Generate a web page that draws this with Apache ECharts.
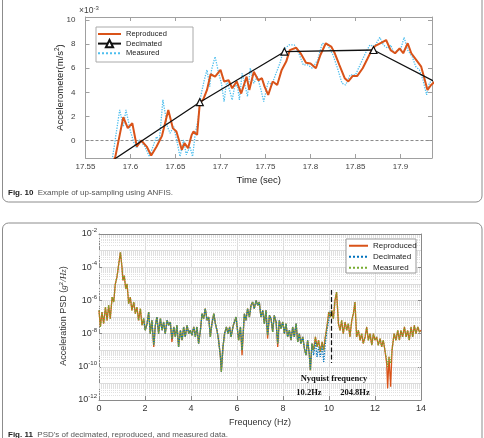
<!DOCTYPE html>
<html>
<head>
<meta charset="utf-8">
<script src="https://cdn.jsdelivr.net/npm/echarts@6/dist/echarts.min.js"></script>
<style>
html, body { margin: 0; padding: 0; background: #fff; overflow: hidden; }
#wrap { position: relative; width: 484px; height: 438px; }
#c1, #c2 { position: absolute; left: 0; top: 0; width: 484px; height: 438px; }
</style>
</head>
<body>
<div id="wrap"><div id="c1"></div><div id="c2"></div></div>
<script>
// ---- Fig. 10 data (time in s, acceleration in 1e-3 m/s^2) ----
var reproduced = [
  [17.578,-2.0],[17.583,-1.4],[17.592,1.94],[17.597,1.03],[17.602,1.44],[17.607,-0.5],[17.612,0],[17.618,-0.5],
  [17.623,-1.24],[17.629,-0.5],[17.635,0.39],[17.642,2.54],[17.647,1.03],[17.651,0.75],[17.657,-0.77],[17.66,-0.22],
  [17.664,-0.63],[17.668,0.47],[17.67,0.75],[17.674,0.47],[17.677,3.1],[17.681,3.43],[17.685,4.2],[17.689,5.5],
  [17.694,5.3],[17.7,5.86],[17.704,4.9],[17.709,5.0],[17.713,4.34],[17.718,4.9],[17.723,3.9],[17.729,5.3],
  [17.732,4.2],[17.737,5.7],[17.742,5.0],[17.746,5.17],[17.749,4.47],[17.753,3.79],[17.758,4.9],[17.763,4.6],
  [17.768,5.86],[17.773,6.55],[17.777,7.5],[17.784,7.7],[17.789,7.24],[17.795,6.46],[17.8,6.4],[17.806,6.0],
  [17.811,7.1],[17.817,8.07],[17.823,7.8],[17.827,7.24],[17.832,6.27],[17.838,5.17],[17.842,4.9],[17.847,5.36],
  [17.852,5.36],[17.858,6.0],[17.863,6.74],[17.868,7.5],[17.872,7.85],[17.879,8.12],[17.884,8.34],[17.889,7.5],
  [17.894,7.24],[17.899,7.65],[17.903,7.24],[17.908,8.07],[17.912,7.24],[17.917,6.74],[17.923,6.13],[17.927,5.03],
  [17.93,4.2],[17.934,4.61],[17.94,5.0]
];
var measured = [
  [17.578,-2.0],[17.58,-1.43],[17.588,2.54],[17.592,1.16],[17.595,2.54],[17.6,0.75],[17.604,-0.22],[17.607,-0.63],
  [17.61,0.06],[17.616,-0.5],[17.621,-1.33],[17.625,-0.5],[17.629,0.33],[17.632,-0.08],[17.636,3.37],[17.641,1.16],
  [17.644,0.61],[17.648,1.16],[17.652,-0.22],[17.655,-1.33],[17.659,0.06],[17.662,-1.18],[17.666,-0.5],[17.669,-1.33],
  [17.672,0.61],[17.675,1.71],[17.678,3.65],[17.682,5.03],[17.685,5.86],[17.688,4.47],[17.69,5.86],[17.694,6.96],
  [17.698,5.58],[17.701,4.75],[17.704,3.23],[17.707,5.03],[17.71,4.2],[17.713,3.37],[17.716,4.61],[17.719,4.47],
  [17.721,3.37],[17.724,5.58],[17.726,5.03],[17.73,3.65],[17.733,6.0],[17.737,4.75],[17.741,5.3],[17.745,4.2],
  [17.748,3.23],[17.753,4.89],[17.757,4.61],[17.761,5.44],[17.766,6.41],[17.77,7.51],[17.776,7.93],[17.782,7.93],
  [17.787,7.24],[17.792,6.27],[17.797,6.27],[17.802,6.0],[17.808,6.69],[17.813,8.07],[17.819,7.93],[17.825,7.1],
  [17.83,6.0],[17.835,4.75],[17.839,4.61],[17.844,5.44],[17.85,5.44],[17.855,6.27],[17.861,7.24],[17.866,7.93],
  [17.871,7.79],[17.877,8.56],[17.881,7.93],[17.886,7.65],[17.889,7.93],[17.893,7.24],[17.897,7.51],[17.9,7.51],
  [17.904,8.56],[17.908,7.51],[17.913,6.96],[17.917,6.13],[17.921,5.86],[17.925,5.03],[17.929,3.79],[17.932,4.75],
  [17.935,5.03]
];
var decimatedT = [17.581, 17.677, 17.771, 17.870, 17.966];
var decimatedV = [-1.6, 3.18, 7.37, 7.51, 3.8];
var accelTicks = [0, 2, 4, 6, 8, 10];
var timeMin = 17.55, timeMax = 17.935;

// ---- Fig. 11 data (frequency in Hz, PSD as log10 of g^2/Hz) ----
var psdFreq = [
  0,0.06,0.13,0.2,0.28,0.35,0.42,0.49,0.57,0.64,0.71,0.78,0.86,0.93,1.0,1.04,1.1,1.16,1.22,1.29,
  1.36,1.43,1.51,1.58,1.65,1.72,1.8,1.87,1.94,2.01,2.09,2.16,2.23,2.3,2.38,2.45,2.52,2.59,2.67,2.74,
  2.81,2.88,2.96,3.03,3.1,3.17,3.25,3.32,3.39,3.46,3.54,3.61,3.68,3.75,3.83,3.9,3.97,4.04,4.12,4.19,
  4.26,4.33,4.41,4.48,4.55,4.62,4.7,4.77,4.84,4.91,4.99,5.06,5.13,5.2,5.28,5.32,5.39,5.46,5.54,5.61,
  5.68,5.74,5.84,5.96,6.07,6.15,6.22,6.32,6.39,6.46,6.54,6.61,6.68,6.75,6.83,6.9,6.97,7.04,7.12,7.19,
  7.26,7.33,7.41,7.48,7.55,7.62,7.7,7.77,7.84,7.91,7.99,8.06,8.13,8.2,8.28,8.35,8.42,8.49,8.57,8.64,
  8.71,8.78,8.86,8.93,9.0,9.07,9.14,9.19,9.26,9.33,9.41,9.48,9.55,9.62,9.7,9.77,9.84,9.91,9.99,10.06,
  10.12,10.19,10.26,10.33,10.41,10.48,10.55,10.62,10.7,10.77,10.84,10.91,10.99,11.06,11.13,11.2,11.28,11.35,11.42,11.49,
  11.57,11.64,11.71,11.78,11.86,11.93,12.0,12.07,12.14,12.22,12.29,12.36,12.43,12.51,12.55,12.61,12.68,12.74,12.83,12.91,
  12.99,13.06,13.13,13.2,13.28,13.35,13.42,13.49,13.57,13.64,13.71,13.78,13.86,13.93,14.0
];
var psdMeasuredExp = [
  -6.6,-7.6,-6.7,-7.4,-6.4,-7.2,-6.3,-7.1,-5.8,-6.1,-5.0,-4.6,-3.8,-3.1,-4.0,-4.8,-4.5,-5.3,-5.0,-6.2,
  -5.8,-6.6,-6.1,-6.8,-6.4,-7.2,-6.5,-7.5,-7.1,-7.8,-7.4,-6.7,-8.0,-7.2,-8.7,-7.5,-7.0,-8.0,-7.1,-7.8,
  -7.3,-8.0,-7.2,-7.5,-7.3,-8.3,-7.6,-8.2,-7.5,-8.8,-7.8,-8.4,-7.6,-8.2,-7.5,-8.0,-7.8,-8.1,-7.6,-8.2,
  -7.6,-8.6,-7.8,-6.8,-7.1,-6.5,-7.2,-7.0,-8.2,-7.4,-6.8,-7.4,-7.8,-8.4,-9.4,-10.3,-8.8,-8.0,-7.6,-8.0,
  -7.6,-8.2,-7.5,-7.0,-8.4,-7.6,-9.0,-6.8,-7.2,-6.5,-7.0,-6.3,-6.1,-6.5,-6.0,-6.3,-6.1,-7.0,-6.6,-7.4,
  -6.6,-8.1,-6.9,-7.1,-7.9,-6.9,-7.3,-8.6,-7.2,-7.7,-7.3,-8.0,-7.4,-8.2,-7.8,-8.4,-7.6,-8.2,-7.4,-8.5,
  -8.0,-8.6,-8.2,-8.9,-9.3,-8.4,-9.2,-10.2,-8.6,-9.0,-8.2,-8.8,-8.4,-9.1,-8.5,-9.0,-8.2,-7.6,-6.7,-7.0,
  -6.6,-7.1,-6.0,-5.5,-7.4,-7.8,-7.2,-8.0,-7.3,-7.8,-7.4,-8.2,-7.2,-6.8,-6.1,-8.2,-7.8,-8.4,-8.0,-8.6,
  -8.2,-7.6,-8.4,-8.0,-8.7,-8.0,-8.4,-8.2,-8.7,-8.3,-8.8,-8.4,-9.0,-9.6,-10.0,-9.4,-9.8,-9.0,-8.0,-8.4,
  -7.8,-8.4,-7.8,-8.2,-7.6,-8.2,-7.8,-8.4,-7.6,-8.2,-7.5,-8.0,-7.6,-7.9,-7.8
];
var psdReproducedExp = [
  -6.6,-7.6,-6.7,-7.4,-6.4,-7.2,-6.3,-7.1,-5.8,-6.1,-5.0,-4.6,-3.8,-3.1,-4.0,-4.8,-4.5,-5.3,-5.0,-6.2,
  -5.8,-6.6,-6.1,-6.8,-6.4,-7.2,-6.5,-7.5,-7.1,-7.8,-7.4,-6.7,-8.0,-7.2,-8.8,-7.5,-7.0,-8.0,-7.1,-7.8,
  -7.3,-8.0,-7.2,-7.5,-7.3,-8.5,-7.6,-8.2,-7.5,-8.8,-7.8,-8.4,-7.6,-8.2,-7.5,-8.0,-7.8,-8.1,-7.6,-8.2,
  -7.6,-8.6,-7.8,-6.8,-7.1,-6.5,-7.2,-7.0,-8.2,-7.4,-6.8,-7.4,-7.8,-8.4,-9.4,-10.3,-8.8,-8.0,-7.6,-8.0,
  -7.6,-8.2,-7.5,-7.0,-8.4,-7.6,-9.3,-6.8,-7.2,-6.5,-7.0,-6.3,-6.1,-6.5,-6.0,-6.3,-6.1,-7.0,-6.6,-7.4,
  -6.6,-8.3,-6.9,-7.1,-7.9,-6.9,-7.3,-8.8,-7.2,-7.7,-7.3,-8.0,-7.4,-8.2,-7.8,-8.4,-7.6,-8.2,-7.4,-8.5,
  -8.0,-8.6,-8.2,-8.9,-9.3,-8.4,-9.2,-10.2,-8.6,-9.0,-8.2,-8.8,-8.4,-9.1,-8.5,-9.0,-8.2,-7.6,-6.7,-7.0,
  -6.6,-7.1,-6.0,-5.5,-7.4,-7.8,-7.2,-8.0,-7.3,-7.8,-7.4,-8.2,-7.2,-6.8,-6.1,-8.2,-7.8,-8.4,-8.0,-8.6,
  -8.2,-7.6,-8.4,-8.0,-8.7,-8.0,-8.4,-8.2,-8.7,-8.3,-8.8,-8.4,-9.0,-9.8,-11.3,-9.4,-11.2,-9.0,-8.0,-8.4,
  -7.8,-8.4,-7.8,-8.2,-7.6,-8.2,-7.8,-8.4,-7.6,-8.2,-7.5,-8.0,-7.6,-7.9,-7.8
];
var psdDecimatedExp = [
  null,null,null,null,null,null,null,null,null,null,null,null,null,null,null,null,null,null,null,null,
  null,null,null,null,null,null,null,null,-7.1,-7.8,-7.4,-6.7,-8.0,-7.2,-8.7,-7.5,-7.0,-8.0,-7.1,-7.8,
  -7.3,-8.0,-7.2,-7.5,-7.3,-8.3,-7.6,-8.2,-7.5,-8.8,-7.8,-8.4,-7.6,-8.2,-7.5,-8.0,-7.8,-8.1,-7.6,-8.2,
  -7.6,-8.6,-7.8,-6.8,-7.1,-6.5,-7.2,-7.0,-8.2,-7.4,-6.8,-7.4,-7.8,-8.4,-9.4,-10.3,-8.8,-8.0,-7.6,-8.0,
  -7.6,-8.2,-7.5,-7.0,-8.4,-7.6,-9.0,-6.8,-7.2,-6.5,-7.0,-6.3,-6.1,-6.5,-6.0,-6.3,-6.1,-7.0,-6.6,-7.4,
  -6.6,-8.1,-6.9,-7.1,-7.9,-6.9,-7.3,-8.6,-7.2,-7.7,-7.3,-8.0,-7.4,-8.2,-7.8,-8.4,-7.6,-8.2,-7.4,-8.5,
  -8.0,-8.6,-8.2,-8.9,-9.3,-8.4,-9.2,-10.2,-8.6,-9.3,-8.5,-9.4,-8.8,-9.4,-8.7,-9.7,-8.6,-7.8,-7.2,-6.6
];
var psdTicks = [1e-12, 1e-10, 1e-8, 1e-6, 1e-4, 1e-2];
var psdDecades = [1e-12, 1e-11, 1e-10, 1e-9, 1e-8, 1e-7, 1e-6, 1e-5, 1e-4, 1e-3, 1e-2];
var nyquistFreq = 10.1;
var freqMin = 0, freqMax = 14;

var FONT = '"Liberation Sans", Arial, sans-serif';
var SERIF = '"Liberation Serif", "Times New Roman", serif';
var NOSYM = { color: 'rgba(0,0,0,0)', borderColor: 'rgba(0,0,0,0)', borderWidth: 0 };

function psdSeries(exps) {
  var out = [];
  psdFreq.forEach(function (f, i) {
    if (exps[i] !== null && exps[i] !== undefined) out.push([f, Math.pow(10, exps[i])]);
  });
  return out;
}

// ---------------- top chart ----------------
var boxTop = '#a0a0a0';
var decimatedData = decimatedT.map(function (t, i) {
  var item = { value: [t, decimatedV[i]] };
  if (i === 0 || i === decimatedT.length - 1) item.symbol = 'none';
  return item;
});

var chartTop = echarts.init(document.getElementById('c1'));
chartTop.setOption({
  animation: false,
  backgroundColor: '#fff',
  textStyle: { fontFamily: FONT },
  graphic: [
    { type: 'rect', shape: { x: 2.5, y: -10, width: 479.5, height: 212, r: 6 },
      style: { fill: 'none', stroke: '#8c8c8c', lineWidth: 1 } },
    { type: 'rect', shape: { x: 2.5, y: 223, width: 479.5, height: 240, r: 6 },
      style: { fill: 'none', stroke: '#8c8c8c', lineWidth: 1 } },
    { type: 'rect', z: 3, shape: { x: 96, y: 27, width: 97, height: 35 },
      style: { fill: '#fff', stroke: '#aaa', lineWidth: 1 } },
    { type: 'text', x: 8, y: 193,
      style: { text: '{b|Fig. 10}  Example of up-sampling using ANFIS.', fill: '#555', font: '8px ' + FONT,
        verticalAlign: 'middle', rich: { b: { fontWeight: 'bold', fill: '#222', fontSize: 8 } } } },
    { type: 'text', x: 8, y: 435,
      style: { text: "{b|Fig. 11}  PSD's of decimated, reproduced, and measured data.", fill: '#555', font: '8px ' + FONT,
        verticalAlign: 'middle', rich: { b: { fontWeight: 'bold', fill: '#222', fontSize: 8 } } } },
    { type: 'text', x: 79, y: 11,
      style: { text: '\u00d710{s|-3}', fill: '#404040', font: '8.5px ' + FONT, verticalAlign: 'middle',
        rich: { s: { fontSize: 6, padding: [0, 0, 6, 0] } } } },
    { type: 'text', x: 60, y: 87.5, rotation: Math.PI / 2,
      style: { text: 'Accelerometer(m/s{s|2})', fill: '#222', font: '9.5px ' + FONT,
        align: 'center', verticalAlign: 'middle',
        rich: { s: { fontSize: 6.5, padding: [0, 0, 6, 0] } } } }
  ],
  legend: {
    orient: 'vertical', left: 97, top: 29.5,
    padding: 0, itemWidth: 23, itemHeight: 9, itemGap: 0.5,
    textStyle: { fontSize: 7.5, color: '#222', lineHeight: 9 },
    data: [{ name: 'Reproduced', itemStyle: NOSYM }, 'Decimated', { name: 'Measured', itemStyle: NOSYM }]
  },
  grid: { left: 85.5, top: 17, width: 346.5, height: 141 },
  xAxis: [
    { type: 'value', min: timeMin, max: timeMax, interval: 0.05, position: 'bottom',
      axisLine: { show: true, onZero: false, lineStyle: { color: boxTop } },
      axisTick: { show: true, inside: true, length: 4, lineStyle: { color: boxTop } },
      axisLabel: { color: '#404040', fontSize: 8, margin: 5, showMaxLabel: false },
      splitLine: { show: false },
      name: 'Time (sec)', nameLocation: 'middle', nameGap: 17,
      nameTextStyle: { fontSize: 9.5, color: '#222' } },
    { type: 'value', min: timeMin, max: timeMax, interval: 0.05, position: 'top',
      axisLine: { show: true, onZero: false, lineStyle: { color: boxTop } },
      axisTick: { show: true, inside: true, length: 4, lineStyle: { color: boxTop } },
      axisLabel: { show: false }, splitLine: { show: false } }
  ],
  yAxis: [
    { type: 'value', min: -1.45, max: 10.25, position: 'left',
      axisLine: { show: true, onZero: false, lineStyle: { color: boxTop } },
      axisTick: { show: true, inside: true, length: 4, customValues: accelTicks, lineStyle: { color: boxTop } },
      axisLabel: { customValues: accelTicks, color: '#404040', fontSize: 8, margin: 10 },
      splitLine: { show: false } },
    { type: 'value', min: -1.45, max: 10.25, position: 'right',
      axisLine: { show: true, onZero: false, lineStyle: { color: boxTop } },
      axisTick: { show: true, inside: true, length: 4, customValues: accelTicks, lineStyle: { color: boxTop } },
      axisLabel: { show: false }, splitLine: { show: false } }
  ],
  series: [
    { name: 'zero', type: 'line', data: [[timeMin, 0], [timeMax, 0]], z: 1, silent: true,
      showSymbol: false, symbol: 'none',
      lineStyle: { color: '#8a8a8a', type: [3, 2], width: 1 } },
    { name: 'Measured', type: 'line', data: measured, z: 2,
      showSymbol: false, symbol: 'none',
      lineStyle: { color: '#4DBEEE', width: 1.3, type: 'dotted' }, itemStyle: { color: '#4DBEEE' } },
    { name: 'Reproduced', type: 'line', data: reproduced, z: 3,
      showSymbol: false, symbol: 'none',
      lineStyle: { color: '#D95319', width: 2 }, itemStyle: { color: '#D95319' } },
    { name: 'Decimated', type: 'line', data: decimatedData, z: 4,
      symbol: 'triangle', symbolSize: 7, showSymbol: true,
      lineStyle: { color: '#111', width: 1.3 },
      itemStyle: { color: '#fff', borderColor: '#111', borderWidth: 1.2 } }
  ]
});

// ---------------- bottom chart ----------------
var boxBot = '#8a8a8a';
var gridLines = [];
for (var d = -12; d <= -3; d++) {
  for (var m = 1; m <= 9; m++) {
    if (m === 1 && d % 2 === 0) continue;
    var v = m * Math.pow(10, d);
    var ls = m === 1 ? { color: '#dcdcdc', type: 'solid', width: 1 } : { color: '#e0e0e0', type: 'dotted', width: 1 };
    gridLines.push([{ coord: [freqMin, v], lineStyle: ls }, { coord: [freqMax, v], lineStyle: ls }]);
  }
}
function expLabel(v) {
  var e = Math.round(Math.log10(v));
  return '10{e|' + e + '}';
}

var chartBot = echarts.init(document.getElementById('c2'));
chartBot.setOption({
  animation: false,
  backgroundColor: 'transparent',
  textStyle: { fontFamily: FONT },
  graphic: [
    { type: 'rect', z: 3, shape: { x: 346, y: 239, width: 70, height: 34 },
      style: { fill: '#fff', stroke: '#999', lineWidth: 1 } },
    { type: 'text', x: 64, y: 316, rotation: Math.PI / 2,
      style: { text: 'Acceleration PSD ({i|g}{s|2}{i|/Hz})', fill: '#333', font: '9px ' + FONT,
        align: 'center', verticalAlign: 'middle',
        rich: { i: { fontStyle: 'italic', fontFamily: SERIF, fontSize: 9 },
                s: { fontSize: 6, padding: [0, 0, 6, 0] } } } },
    { type: 'text', z: 6, x: 334, y: 379, style: { text: 'Nyquist frequency', align: 'center', verticalAlign: 'middle',
      fill: '#111', font: 'bold 8.5px ' + SERIF } },
    { type: 'text', z: 6, x: 309, y: 393, style: { text: '10.2Hz', align: 'center', verticalAlign: 'middle',
      fill: '#111', font: 'bold 8.5px ' + SERIF } },
    { type: 'text', z: 6, x: 355, y: 393, style: { text: '204.8Hz', align: 'center', verticalAlign: 'middle',
      fill: '#111', font: 'bold 8.5px ' + SERIF } }
  ],
  legend: {
    orient: 'vertical', left: 348, top: 240.5,
    padding: 0, itemWidth: 19, itemHeight: 10, itemGap: 0.5,
    textStyle: { fontSize: 8, color: '#222', lineHeight: 10.5 },
    data: [{ name: 'Reproduced', itemStyle: NOSYM }, { name: 'Decimated', itemStyle: NOSYM }, { name: 'Measured', itemStyle: NOSYM }]
  },
  grid: { left: 99, top: 234, width: 322, height: 166 },
  xAxis: [
    { type: 'value', min: freqMin, max: freqMax, interval: 2, position: 'bottom',
      axisLine: { show: true, onZero: false, lineStyle: { color: boxBot } },
      axisTick: { show: true, inside: true, length: 4, lineStyle: { color: boxBot } },
      axisLabel: { color: '#333', fontSize: 9, margin: 4 },
      splitLine: { show: true, lineStyle: { color: '#dedede', width: 1 } },
      name: 'Frequency (Hz)', nameLocation: 'middle', nameGap: 18.5,
      nameTextStyle: { fontSize: 9, color: '#333' } },
    { type: 'value', min: freqMin, max: freqMax, interval: 2, position: 'top',
      axisLine: { show: true, onZero: false, lineStyle: { color: boxBot } },
      axisTick: { show: true, inside: true, length: 4, lineStyle: { color: boxBot } },
      axisLabel: { show: false }, splitLine: { show: false } }
  ],
  yAxis: [
    { type: 'log', logBase: 10, min: 1e-12, max: 1e-2, position: 'left',
      axisLine: { show: true, onZero: false, lineStyle: { color: boxBot } },
      axisTick: { show: true, inside: true, length: 3, customValues: psdDecades, lineStyle: { color: boxBot } },
      axisLabel: { customValues: psdTicks, formatter: expLabel, color: '#333', fontSize: 9, margin: 2,
        rich: { e: { fontSize: 6, padding: [0, 0, 7, 0] } } },
      splitLine: { show: true, lineStyle: { color: '#dcdcdc', width: 1 } } },
    { type: 'log', logBase: 10, min: 1e-12, max: 1e-2, position: 'right',
      axisLine: { show: true, onZero: false, lineStyle: { color: boxBot } },
      axisTick: { show: true, inside: true, length: 3, customValues: psdDecades, lineStyle: { color: boxBot } },
      axisLabel: { show: false }, splitLine: { show: false } }
  ],
  series: [
    { name: 'grid', type: 'line', data: [], z: 1, silent: true,
      markLine: { z: 1, silent: true, symbol: ['none', 'none'], label: { show: false }, animation: false, data: gridLines } },
    { name: 'Reproduced', type: 'line', data: psdSeries(psdReproducedExp), z: 2,
      showSymbol: false, symbol: 'none',
      lineStyle: { color: '#D95319', width: 1.3 }, itemStyle: { color: '#D95319' } },
    { name: 'Decimated', type: 'line', data: psdSeries(psdDecimatedExp), z: 3,
      showSymbol: false, symbol: 'none',
      lineStyle: { color: '#0072BD', width: 1.3, type: 'dotted' }, itemStyle: { color: '#0072BD' },
      markLine: { silent: true, symbol: ['none', 'none'], label: { show: false },
        lineStyle: { color: '#111', type: 'dashed', width: 1.2 },
        data: [[{ coord: [nyquistFreq, 4.3e-6] }, { coord: [nyquistFreq, 1.7e-10] }]] } },
    { name: 'Measured', type: 'line', data: psdSeries(psdMeasuredExp), z: 4,
      showSymbol: false, symbol: 'none',
      lineStyle: { color: '#77AC30', width: 1.3, type: 'dotted' }, itemStyle: { color: '#77AC30' } }
  ]
});
</script>
</body>
</html>
